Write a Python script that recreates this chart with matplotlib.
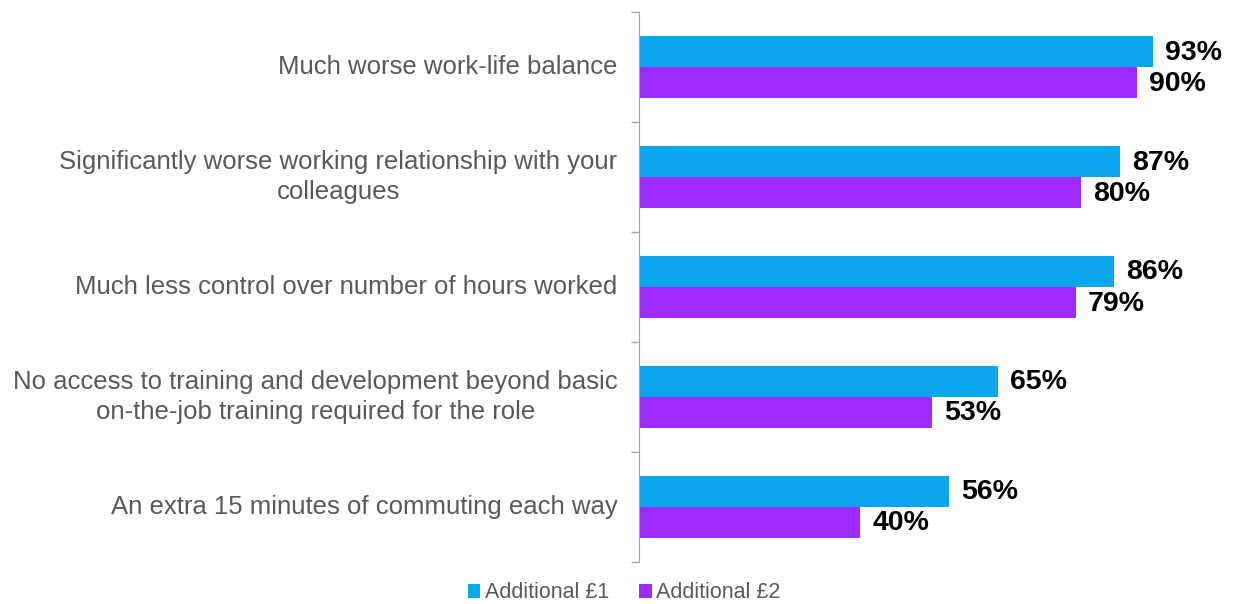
import matplotlib.pyplot as plt
import numpy as np

plt.rcParams['font.family'] = ['Liberation Sans', 'DejaVu Sans']

# survey items, top to bottom
categories = [
    "Much worse work-life balance",
    "Significantly worse working relationship with your\ncolleagues",
    "Much less control over number of hours worked",
    "No access to training and development beyond basic\non-the-job training required for the role",
    "An extra 15 minutes of commuting each way",
]
additional_1 = [93, 87, 86, 65, 56]
additional_2 = [90, 80, 79, 53, 40]
series_names = ["Additional £1", "Additional £2"]

BLUE = "#0AA6EC"
PURPLE = "#9E2BFE"
GREY = "#595959"

fig = plt.figure(figsize=(12.36, 6.04), dpi=100)
ax = fig.add_axes([0.517, 0.07, 0.483, 0.91])

y = np.arange(len(categories))
h = 0.283
b1 = ax.barh(y - h / 2, additional_1, height=h, color=BLUE, label=series_names[0])
b2 = ax.barh(y + h / 2, additional_2, height=h, color=PURPLE, label=series_names[1])

for bars, vals in ((b1, additional_1), (b2, additional_2)):
    for bar, v in zip(bars, vals):
        ax.text(v + 2.2, bar.get_y() + bar.get_height() / 2 + 0.01, f"{v}%",
                va='center', ha='left', fontsize=20.5, fontweight='bold', color='black')

ax.set_xlim(0, 108)
ax.set_ylim(len(categories) - 0.5, -0.5)
ax.set_xticks([])

# category labels between tick marks at group boundaries
ax.set_yticks(np.arange(len(categories) + 1) - 0.5)
ax.set_yticklabels([])
ax.tick_params(axis='y', direction='out', length=6, color='#A6A6A6', width=1)
for i, c in enumerate(categories):
    ax.text(-3.9, i, c, ha='right', va='center', multialignment='center',
            fontsize=18.5, color=GREY, linespacing=1.35)

for side in ('top', 'right', 'bottom'):
    ax.spines[side].set_visible(False)
ax.spines['left'].set_color('#A6A6A6')

leg = fig.legend(handles=[b1, b2], loc='lower center', bbox_to_anchor=(0.505, -0.031),
                 ncol=2, frameon=False, fontsize=15.5, handlelength=0.6, handleheight=0.6,
                 handletextpad=0.2, columnspacing=1.4)
for t in leg.get_texts():
    t.set_color(GREY)

fig.savefig("out.png", dpi=100)
